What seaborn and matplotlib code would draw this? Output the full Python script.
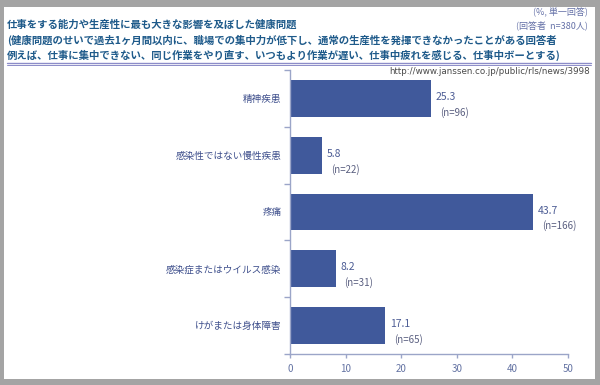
import matplotlib
matplotlib.use("Agg")
import matplotlib.pyplot as plt
import seaborn as sns
import pandas as pd
from matplotlib.patches import Rectangle
from matplotlib.lines import Line2D

categories = ["精神疾患", "感染性ではない慢性疾患", "疼痛", "感染症またはウイルス感染", "けがまたは身体障害"]
values = [25.3, 5.8, 43.7, 8.2, 17.1]
counts = [96, 22, 166, 31, 65]
xticks = [0, 10, 20, 30, 40, 50]

title_lines = [
    "仕事をする能力や生産性に最も大きな影響を及ぼした健康問題",
    "(健康問題のせいで過去1ヶ月間以内に、職場での集中力が低下し、通常の生産性を発揮できなかったことがある回答者",
    "例えば、仕事に集中できない、同じ作業をやり直す、いつもより作業が遅い、仕事中疲れを感じる、仕事中ボーとする)",
]
note_lines = ["(%, 単一回答)", "(回答者  n=380人)"]
url = "http://www.janssen.co.jp/public/rls/news/3998"

sns.set_theme(style="white")
plt.rcParams["font.family"] = ["Noto Sans CJK JP", "DejaVu Sans"]

W, H = 600, 385
fig = plt.figure(figsize=(6, 3.85), dpi=100, facecolor="#a4a4a4")

def fx(px):
    return px / W

def fy(py):
    return 1 - py / H

# white panel
fig.patches.append(Rectangle((fx(4), fy(379)), fx(595) - fx(4), fy(7) - fy(379),
                             transform=fig.transFigure, facecolor="white", edgecolor="none", zorder=-5))

ax = fig.add_axes([fx(290), fy(354), fx(568) - fx(290), fy(70) - fy(354)])
ax.set_zorder(3)
ax.set_facecolor("none")

df = pd.DataFrame({"cat": categories, "val": values})
sns.barplot(data=df, x="val", y="cat", orient="h", color="#40599b", saturation=1,
            width=0.65, ax=ax, edgecolor="none")

ax.set_xlim(0, 50)
ax.set_ylim(4.5, -0.5)
ax.set_xticks(xticks)
ax.set_xticklabels([str(t) for t in xticks])
ax.set_xlabel("")
ax.set_ylabel("")

spine_c = "#9ba5c8"
for s in ["top", "right"]:
    ax.spines[s].set_visible(False)
for s in ["left", "bottom"]:
    ax.spines[s].set_visible(True)
    ax.spines[s].set_color(spine_c)
    ax.spines[s].set_linewidth(1.0)

ax.tick_params(axis="x", bottom=True, length=3, width=1, color=spine_c,
               labelsize=7, labelcolor="#6473a3", pad=4)
ax.tick_params(axis="y", which="major", left=False, length=0, labelsize=6.9,
               labelcolor="#3e4f8c", pad=6)
ax.set_yticks([i - 0.5 for i in range(len(categories) + 1)], minor=True)
ax.tick_params(axis="y", which="minor", left=True, length=4, width=1, color=spine_c)

for i, (v, n) in enumerate(zip(values, counts)):
    ax.annotate(f"{v}", xy=(v, i), xytext=(3.5, 1), textcoords="offset points",
                ha="left", va="center", fontsize=7.5, color="#4d5d95")
    ax.annotate(f"(n={n})", xy=(v, i), xytext=(6.5, -10), textcoords="offset points",
                ha="left", va="center", fontsize=7, color="#5a5f80")

tcol = "#1e5a8a"
for j, (line, py) in enumerate(zip(title_lines, [25, 40, 55])):
    fig.text(fx(7), fy(py), line, ha="left", va="center", fontsize=7.5,
             fontweight="bold", color=tcol)

for line, py in zip(note_lines, [12, 25]):
    fig.text(fx(588), fy(py), line, ha="right", va="center", fontsize=6.5, color="#6672a8")

fig.lines.append(Line2D([fx(7), fx(591)], [fy(63), fy(63)], transform=fig.transFigure,
                        color="#8c8cc8", linewidth=1.0))
fig.lines.append(Line2D([fx(7), fx(591)], [fy(65), fy(65)], transform=fig.transFigure,
                        color="#8c8cc8", linewidth=0.7))

fig.text(fx(590), fy(71), url, ha="right", va="center", fontsize=6.3, color="#4a4a4a",
         family="DejaVu Sans")

fig.savefig("out.png", dpi=100, facecolor=fig.get_facecolor())
